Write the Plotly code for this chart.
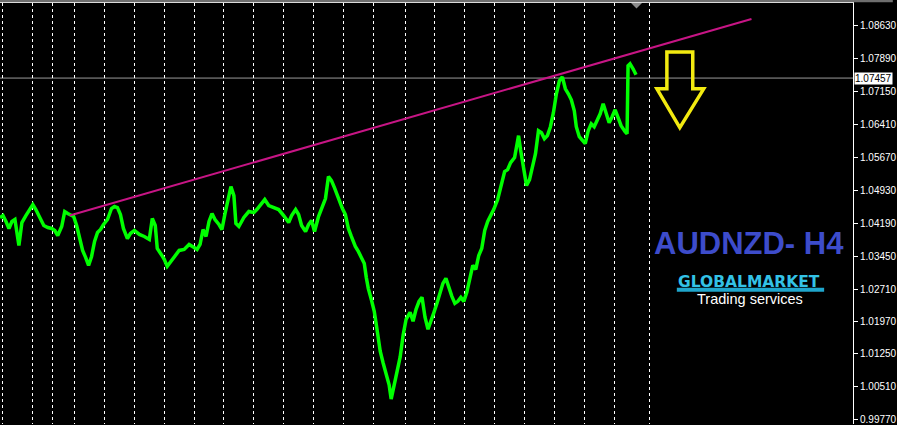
import plotly.graph_objects as go

# ---- data ----
bar_index = [0, 3, 6, 9, 12, 15, 19, 22, 26, 30, 33, 36, 40, 44, 48, 52, 55, 58, 62, 65, 68, 71, 74, 77, 80, 83, 86, 89, 92, 95, 98, 101, 104, 108, 112, 115, 118, 121, 124, 128, 131, 135, 140, 145, 150, 153, 156, 158, 162, 165, 168, 172, 176, 180, 185, 190, 195, 198, 201, 204, 207, 210, 213, 216, 220, 223, 226, 229, 232, 235, 237, 240, 245, 250, 255, 258, 262, 266, 270, 275, 280, 285, 290, 293, 297, 300, 303, 307, 310, 313, 316, 320, 324, 327, 330, 333, 336, 340, 344, 347, 350, 353, 357, 360, 363, 366, 368, 370, 373, 376, 378, 380, 382, 385, 388, 391, 393, 396, 399, 402, 405, 408, 412, 415, 418, 421, 424, 427, 430, 433, 436, 439, 442, 445, 448, 451, 454, 457, 460, 463, 466, 469, 472, 475, 478, 481, 484, 487, 490, 493, 496, 500, 503, 507, 510, 513, 517, 521, 523, 526, 529, 532, 535, 538, 541, 544, 547, 550, 553, 556, 559, 562, 565, 568, 571, 574, 577, 579, 582, 585, 588, 591, 594, 597, 600, 603, 606, 609, 612, 615, 618, 621, 624, 628, 630, 631, 633, 636, 639]

price = [1.04320, 1.04364, 1.04230, 1.04073, 1.04230, 1.04275, 1.03691, 1.04207, 1.04364, 1.04499, 1.04611, 1.04499, 1.04320, 1.04140, 1.04095, 1.04073, 1.04028, 1.03915, 1.04118, 1.04454, 1.04409, 1.04364, 1.04342, 1.04140, 1.03826, 1.03579, 1.03422, 1.03242, 1.03444, 1.03781, 1.03983, 1.04050, 1.04162, 1.04275, 1.04522, 1.04567, 1.04544, 1.04387, 1.04073, 1.03848, 1.03960, 1.04028, 1.03938, 1.03893, 1.03826, 1.04297, 1.04140, 1.03624, 1.03489, 1.03377, 1.03220, 1.03332, 1.03466, 1.03579, 1.03601, 1.03713, 1.03646, 1.03601, 1.03713, 1.04050, 1.03893, 1.04230, 1.04409, 1.04275, 1.04162, 1.04050, 1.04400, 1.04724, 1.05016, 1.04813, 1.04185, 1.04118, 1.04320, 1.04454, 1.04432, 1.04499, 1.04611, 1.04724, 1.04589, 1.04544, 1.04499, 1.04364, 1.04207, 1.04364, 1.04499, 1.04387, 1.04140, 1.04005, 1.04162, 1.04252, 1.04005, 1.04342, 1.04589, 1.04746, 1.05240, 1.05150, 1.04993, 1.04746, 1.04522, 1.04387, 1.04073, 1.03893, 1.03669, 1.03556, 1.03422, 1.03287, 1.02973, 1.02726, 1.02479, 1.02209, 1.01917, 1.01626, 1.01312, 1.01042, 1.00817, 1.00548, 1.00234, 1.00526, 1.00817, 1.01177, 1.01670, 1.02030, 1.02187, 1.01985, 1.02254, 1.02434, 1.02524, 1.02075, 1.01805, 1.02030, 1.02187, 1.02389, 1.02613, 1.02838, 1.02950, 1.02726, 1.02546, 1.02389, 1.02434, 1.02524, 1.02434, 1.02636, 1.02950, 1.03242, 1.03152, 1.03466, 1.03624, 1.04028, 1.04230, 1.04364, 1.04499, 1.04724, 1.05016, 1.05352, 1.05397, 1.05554, 1.05667, 1.06161, 1.05846, 1.05442, 1.05038, 1.05173, 1.05465, 1.05756, 1.06273, 1.06228, 1.06093, 1.06161, 1.06363, 1.06677, 1.07103, 1.07395, 1.07485, 1.07216, 1.07103, 1.06969, 1.06722, 1.06363, 1.06138, 1.06048, 1.05981, 1.06273, 1.06430, 1.06363, 1.06520, 1.06654, 1.06879, 1.06654, 1.06452, 1.06587, 1.06744, 1.06565, 1.06385, 1.06250, 1.06205, 1.07732, 1.07777, 1.07665, 1.07530]

trend_x = [70, 755]
trend_y = [1.04364, 1.08787]

current_price = 1.07457

separator_bars = [3, 33, 53, 75, 105, 135, 165, 195, 225, 255, 285, 315, 345, 375, 407, 437, 467, 497, 527, 557, 587, 617, 653]

tick_values = [1.08630, 1.07890, 1.07150, 1.06410, 1.05670, 1.04930, 1.04190, 1.03450, 1.02710, 1.01970, 1.01250, 1.00510, 0.99770]
tick_labels = ["%.5f" % v for v in tick_values]

title_text = "AUDNZD- H4"
logo_text = "GLOBALMARKET"
logo_sub = "Trading services"

# ---- figure ----
W, H = 897, 425
PL, PR, PT, PB = 0, 857, 3, 425  # plot area in pixels


def px(x):
    return (x - PL) / (PR - PL)


def py(y):
    return (PB - y) / (PB - PT)


fig = go.Figure()
fig.add_trace(go.Scatter(x=bar_index, y=price, mode="lines",
                         line=dict(color="#00ff00", width=3.5), hoverinfo="skip"))
fig.add_trace(go.Scatter(x=trend_x, y=trend_y, mode="lines",
                         line=dict(color="#c71585", width=2), hoverinfo="skip"))

shapes = []
# current price line
shapes.append(dict(type="line", xref="paper", yref="y", x0=0, x1=1,
                   y0=current_price, y1=current_price,
                   line=dict(color="#9a9a9a", width=1), layer="below"))
# grey strip at top
shapes.append(dict(type="rect", xref="paper", yref="paper", x0=0, x1=W / (PR - PL),
                   y0=py(2.2), y1=py(0), fillcolor="#6e6e6e", line=dict(width=0)))
# grey shift marker
shapes.append(dict(type="path", xref="paper", yref="paper",
                   path="M %f,%f L %f,%f L %f,%f Z" % (px(634), py(3), px(645), py(3), px(639.5), py(8.5)),
                   fillcolor="#8c8c8c", line=dict(width=0)))
# yellow hollow arrow
pts = [(670, 52), (696, 52), (696, 89), (707, 89), (683, 128), (660, 89), (670, 89)]
path = "M " + " L ".join("%f,%f" % (px(a), py(b)) for a, b in pts) + " Z"
shapes.append(dict(type="path", xref="paper", yref="paper", path=path,
                   line=dict(color="#f2ea10", width=3.5), fillcolor="rgba(0,0,0,0)"))
# logo underline bar
shapes.append(dict(type="rect", xref="paper", yref="paper", x0=px(680), x1=px(828),
                   y0=py(292.5), y1=py(288.5), fillcolor="#1fa6cc", line=dict(width=0)))

annotations = [
    dict(text=title_text, xref="paper", yref="paper", x=px(655), y=py(244),
         xanchor="left", yanchor="middle", showarrow=False,
         font=dict(family="Liberation Sans", size=31, color="#3d4ccb", weight="bold")),
    dict(text=logo_text, xref="paper", yref="paper", x=px(753), y=py(283),
         xanchor="center", yanchor="middle", showarrow=False,
         font=dict(family="DejaVu Sans", size=15.5, color="#33c2e6", weight="bold")),
    dict(text=logo_sub, xref="paper", yref="paper", x=px(754), y=py(300),
         xanchor="center", yanchor="middle", showarrow=False,
         font=dict(family="Liberation Sans", size=14.5, color="#ffffff")),
    dict(text="%.5f" % current_price, xref="paper", yref="y", x=1, y=current_price,
         xanchor="left", yanchor="middle", xshift=1, showarrow=False,
         bgcolor="#ffffff", borderpad=0,
         font=dict(family="Liberation Sans", size=10, color="#000000")),
]

fig.update_layout(
    width=W, height=H,
    margin=dict(l=PL, r=W - PR, t=PT, b=H - PB, pad=0),
    paper_bgcolor="#000000", plot_bgcolor="#000000",
    showlegend=False,
    shapes=shapes, annotations=annotations,
    xaxis=dict(range=[0, PR - PL], side="top", showline=True, linecolor="#ffffff",
               linewidth=1, tickvals=separator_bars, showticklabels=False, ticks="",
               showgrid=True, gridcolor="#ffffff", gridwidth=1, griddash="3px,3px",
               zeroline=False, fixedrange=True),
    yaxis=dict(range=[0.99674, 1.09146], side="right", showline=True, linecolor="#ffffff",
               linewidth=1, tickvals=tick_values, ticktext=tick_labels, ticks="outside",
               ticklen=4, tickcolor="#ffffff", showgrid=False, zeroline=False,
               ticklabeloverflow="allow",
               tickfont=dict(family="Liberation Sans", size=10, color="#ffffff"),
               fixedrange=True),
)

fig.write_html("out.html", config={"displayModeBar": False},
               post_script="document.body.style.margin='0px';document.body.style.background='#000';")
